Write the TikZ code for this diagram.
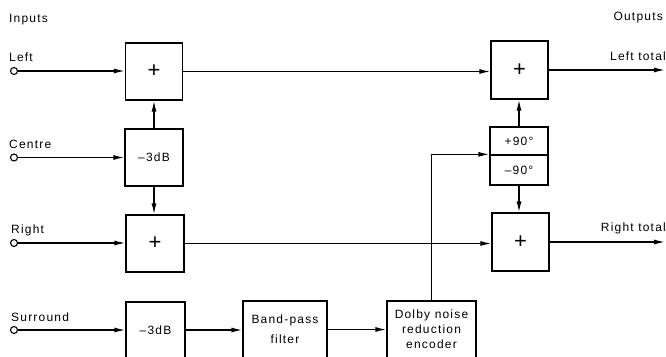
\documentclass[tikz,border=0pt]{standalone}
\usepackage{fontspec}
\setmainfont{Liberation Sans}[LetterSpace=10]
\usetikzlibrary{arrows.meta}
\begin{document}
\begin{tikzpicture}[x=1pt,y=-1pt,
  font=\fontsize{12}{14}\selectfont,
  blk/.style={draw, line width=1.3pt, inner sep=0pt, align=center},
  sq/.style={blk, minimum width=57pt, minimum height=57pt},
  conn/.style={line width=1.3pt},
  arr/.style={conn, -{Latex[length=11pt,width=5pt]}},
  term/.style={circle, draw, line width=1.1pt, minimum size=7pt, inner sep=0pt},
  lbl/.style={inner sep=0pt},
  plus/.style={font=\fontsize{22}{22}\selectfont}
]
\useasboundingbox (0,0) rectangle (666,356);
\clip (0,0) rectangle (666,356);

% labels
\node[lbl, anchor=west] (tin) at (9,20) {Inputs};
\node[lbl, anchor=east] (tout) at (663,18) {Outputs};
\node[lbl, anchor=west] (tl) at (9,57) {Left};
\node[lbl, anchor=west] (tc) at (9,144) {Centre};
\node[lbl, anchor=west] (tr) at (11,230) {Right};
\node[lbl, anchor=west] (ts) at (11,317) {Surround};
\node[lbl, anchor=east] (tlt) at (666,56) {Left total};
\node[lbl, anchor=east] (trt) at (666,228) {Right total};

% terminals
\node[term] (inL) at (14,71) {};
\node[term] (inC) at (14,157.5) {};
\node[term] (inR) at (14,243) {};
\node[term] (inS) at (14,330) {};

% blocks
\node[sq, plus] (Lp) at (154,71.5) {+};
\node[blk, minimum width=58pt, minimum height=57pt] (C3) at (154,157.5) {–3dB};
\node[blk, plus, minimum width=58pt, minimum height=57pt] (Rp) at (155,243.5) {+};
\node[blk, minimum width=59pt, minimum height=56pt] (S3) at (155.5,330) {–3dB};
\node[blk, minimum width=84pt, minimum height=57pt] (BP) at (285,329.5) {Band-pass\\[6pt]filter};
\node[blk, minimum width=89pt, minimum height=57pt, font=\fontsize{12}{15}\selectfont] (DB) at (431.5,329.5) {Dolby noise\\reduction\\encoder};
\node[blk, plus, minimum width=57pt, minimum height=58pt] (LT) at (519.5,70) {+};
\node[blk, minimum width=58pt, minimum height=28pt] (P90) at (519,141) {+90°};
\node[blk, minimum width=58pt, minimum height=30pt] (M90) at (519,170) {–90°};
\node[blk, plus, minimum width=57pt, minimum height=58pt] (RT) at (520.5,242) {+};

\coordinate (oL) at (665,70);
\coordinate (oR) at (665,242);

% connectors
\draw[arr] (inL) -- (inL -| Lp.west);
\draw[arr] (inC) -- (inC -| C3.west);
\draw[arr] (inR) -- (inR -| Rp.west);
\draw[arr] (inS) -- (inS -| S3.west);
\draw[arr] (C3.north) -- (Lp.south);
\draw[arr] (C3.south) -- (C3.south |- Rp.north);
\draw[arr] (Lp.east) -- (Lp.east -| LT.west);
\draw[arr] (Rp.east) -- (Rp.east -| RT.west);
\draw[arr] (S3.east) -- (S3.east -| BP.west);
\draw[arr] (BP.east) -- (BP.east -| DB.west);
\draw[arr] (DB.north) |- (M90.north west);
\draw[arr] (P90.north) -- (P90.north |- LT.south);
\draw[arr] (M90.south) -- (M90.south |- RT.north);
\draw[arr] (LT.east) -- (oL);
\draw[arr] (RT.east) -- (oR);
\end{tikzpicture}
\end{document}
